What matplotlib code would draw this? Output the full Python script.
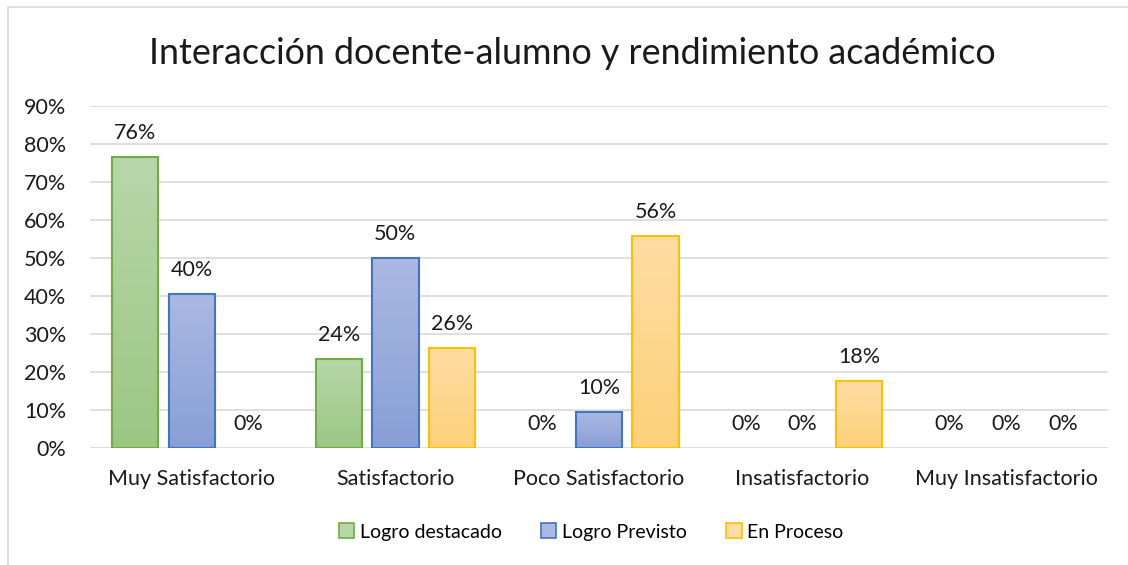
import numpy as np
import matplotlib.pyplot as plt
from matplotlib.colors import LinearSegmentedColormap
from matplotlib.patches import Rectangle
from matplotlib.ticker import FuncFormatter

categories = ["Muy Satisfactorio", "Satisfactorio", "Poco Satisfactorio",
              "Insatisfactorio", "Muy Insatisfactorio"]
series = ["Logro destacado", "Logro Previsto", "En Proceso"]
logro_destacado = [76.5, 23.5, 0, 0, 0]
logro_previsto = [40.4, 50, 9.6, 0, 0]
en_proceso = [0, 26.4, 55.9, 17.6, 0]
labels = [["76%", "24%", "0%", "0%", "0%"],
          ["40%", "50%", "10%", "0%", "0%"],
          ["0%", "26%", "56%", "18%", "0%"]]

# (top colour, bottom colour, edge colour)
styles = [("#b7d7a9", "#9cc783", "#70ad47"),
          ("#aab9e2", "#889fd6", "#4472c4"),
          ("#ffdda3", "#fdd17a", "#ffc000")]

plt.rcParams['font.family'] = ['Lato', 'DejaVu Sans']
FS = 15.5

fig = plt.figure(figsize=(11.28, 5.65), dpi=100)
ax = fig.add_axes([90 / 1128, 1 - 448 / 565, 1018 / 1128, 342 / 565])

# chart frame
fig.patches.append(Rectangle((8 / 1128, -0.1), 1.2, 1 - 7 / 565 + 0.1,
                             transform=fig.transFigure, fill=False,
                             edgecolor="#d9d9d9", linewidth=1.2, zorder=0))

x = np.arange(len(categories))
width = 0.227
step = 0.278
data = [logro_destacado, logro_previsto, en_proceso]
px = 90 / 342  # data units per pixel

for i, vals in enumerate(data):
    top, bottom, edge = styles[i]
    cmap = LinearSegmentedColormap.from_list("g%d" % i, [bottom, top])
    pos = x + (i - 1) * step
    for p, v, lab in zip(pos, vals, labels[i]):
        if v > 0:
            b = ax.bar(p, v, width, facecolor="none", edgecolor=edge,
                       linewidth=1.5, zorder=3)[0]
            grad = np.linspace(0, 1, 100).reshape(-1, 1)
            im = ax.imshow(grad, cmap=cmap, origin="lower", aspect="auto",
                           extent=[b.get_x(), b.get_x() + b.get_width(), 0, v],
                           zorder=2)
            im.set_clip_path(b)
        ax.text(p, v + 24 * px, lab, ha="center", va="center", fontsize=FS,
                color="#1a1a1a", zorder=4)

ax.set_xlim(-0.5, len(categories) - 0.5)
ax.set_ylim(0, 90)
ax.set_yticks(np.arange(0, 91, 10))
ax.yaxis.set_major_formatter(FuncFormatter(lambda v, _: "%d%%" % v))
ax.set_xticks(x)
ax.set_xticklabels(categories)
ax.tick_params(axis="both", length=0, labelsize=FS, colors="#1a1a1a")
ax.tick_params(axis="x", pad=15)
ax.tick_params(axis="y", pad=17)
ax.grid(axis="y", color="#d9d9d9", linewidth=1.2, zorder=0)
ax.set_axisbelow(True)
for s in ax.spines.values():
    s.set_visible(False)

fig.text(572 / 1128, 1 - 53 / 565, "Interacción docente-alumno y rendimiento académico",
         ha="center", va="center", fontsize=25.8, color="#1a1a1a")

handles = [Rectangle((0, 0), 1, 1, facecolor=styles[i][0],
                     edgecolor=styles[i][2], linewidth=1.2) for i in range(3)]
fig.legend(handles, series, loc="center", bbox_to_anchor=(0.524, 1 - 532 / 565),
           ncol=3, frameon=False, fontsize=14, handlelength=0.8,
           handleheight=0.8, handletextpad=0.3, columnspacing=2.0)

fig.savefig("out.png", dpi=100)
